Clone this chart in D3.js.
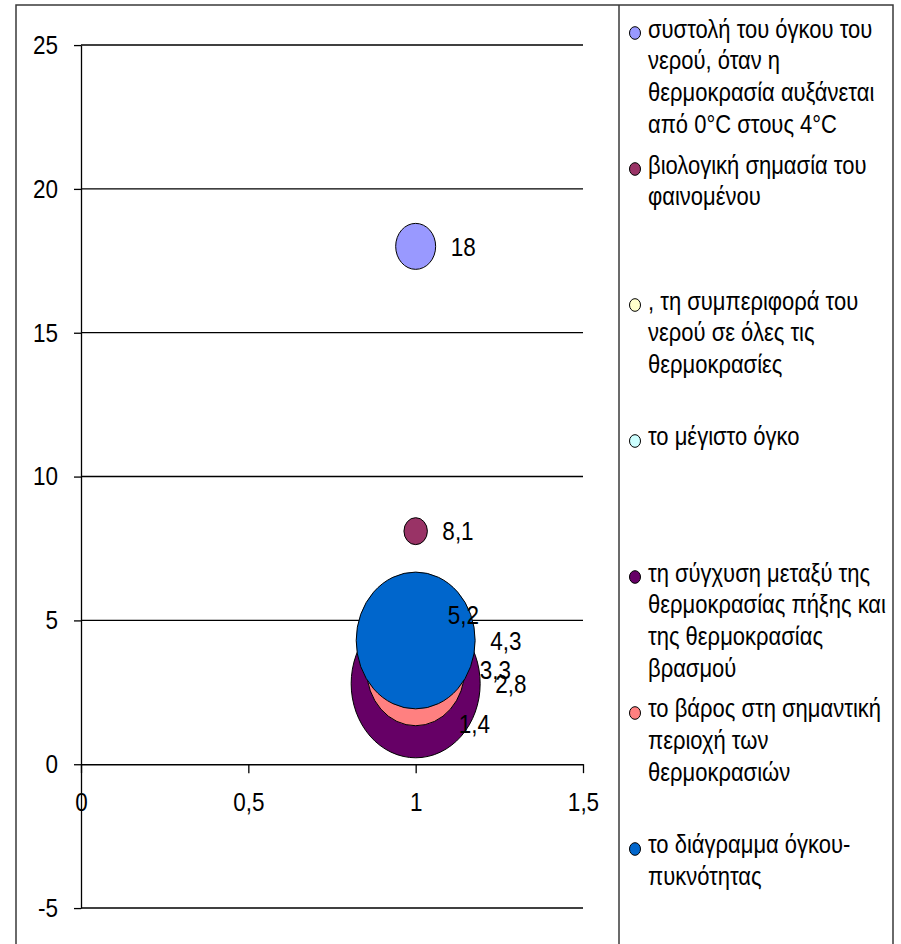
<!DOCTYPE html>
<html>
<head>
<meta charset="utf-8">
<script src="https://cdn.jsdelivr.net/npm/d3@7"></script>
<style>
  html, body { margin: 0; padding: 0; background: #fff; }
  svg { display: block; }
  text { font-family: "Liberation Sans", Arial, sans-serif; fill: #000; }
</style>
</head>
<body>
<svg id="chart" width="901" height="944"></svg>
<script>
// ---- data ----
const seriesNames = [
  ["συστολή του όγκου του", "νερού, όταν η", "θερμοκρασία αυξάνεται", "από 0°C στους 4°C"],
  ["βιολογική σημασία του", "φαινομένου"],
  [", τη συμπεριφορά του", "νερού σε όλες τις", "θερμοκρασίες"],
  ["το μέγιστο όγκο"],
  ["τη σύγχυση μεταξύ της", "θερμοκρασίας πήξης και", "της θερμοκρασίας", "βρασμού"],
  ["το βάρος στη σημαντική", "περιοχή των", "θερμοκρασιών"],
  ["το διάγραμμα όγκου-", "πυκνότητας"]
];
const seriesColors = ["#9999FF", "#993366", "#FFFFCC", "#CCFFFF", "#660066", "#FF8080", "#0066CC"];
const xValues = [1, 1, 1, 1, 1, 1, 1];
const yValues = [18, 8.1, 5.2, 1.4, 2.8, 3.3, 4.3];
const bubbleSizes = [9.6, 3.3, 7, 19, 100, 58, 85];
const yTicks = [-5, 0, 5, 10, 15, 20, 25];
const xTicks = [0, 0.5, 1, 1.5];

// ---- layout ----
const S = 1.15;               // vertical stretch of the picture
const fy = v => v / S;        // final pixel y -> unstretched
const svg = d3.select("#chart");
const root = svg.append("g").attr("transform", `scale(1,${S})`);

const loc = d3.formatLocale({decimal: ",", thousands: ".", grouping: [3], currency: ["", "€"], minus: "-"});
const fmt = loc.format("~g");

const x = d3.scaleLinear().domain([0, 1.5]).range([81, 583]);
const y = d3.scaleLinear().domain([-5, 25]).range([fy(908), fy(45)]);
const r = d3.scaleSqrt().domain([0, 100]).range([0, 64.5]);

// frame
root.append("rect").attr("x", 16).attr("y", fy(5)).attr("width", 877).attr("height", fy(960))
  .attr("fill", "none").attr("stroke", "#3a3a3a").attr("stroke-width", 1.5)
  .attr("vector-effect", "non-scaling-stroke");
root.append("line").attr("x1", 619).attr("x2", 619).attr("y1", fy(5)).attr("y2", fy(960))
  .attr("stroke", "#3a3a3a").attr("stroke-width", 1.5).attr("vector-effect", "non-scaling-stroke");

// gridlines
root.append("g").selectAll("line").data(yTicks.filter(t => t !== 0)).join("line")
  .attr("x1", x(0)).attr("x2", x(1.5)).attr("y1", d => y(d)).attr("y2", d => y(d))
  .attr("stroke", "#000").attr("stroke-width", 1.3).attr("vector-effect", "non-scaling-stroke");

// y axis
const yAxis = root.append("g").attr("transform", `translate(${x(0)},0)`)
  .call(d3.axisLeft(y).tickValues(yTicks).tickSize(7).tickSizeOuter(0).tickPadding(16).tickFormat(fmt));
// x axis
const xAxis = root.append("g").attr("transform", `translate(0,${y(0)})`)
  .call(d3.axisBottom(x).tickValues(xTicks).tickSize(9 / S).tickSizeOuter(0).tickPadding(17).tickFormat(fmt));
[yAxis, xAxis].forEach(a => {
  a.selectAll("path, line").attr("stroke", "#000").attr("stroke-width", 1.3)
    .attr("vector-effect", "non-scaling-stroke");
  a.selectAll("text").attr("font-size", 22.5).attr("fill", "#000")
    .attr("font-family", "'Liberation Sans', Arial, sans-serif");
});

// bubbles
const data = yValues.map((v, i) => ({i, x: xValues[i], y: v, s: bubbleSizes[i]}));
root.append("g").selectAll("circle").data(data).join("circle")
  .attr("cx", d => x(d.x)).attr("cy", d => y(d.y)).attr("r", d => r(d.s))
  .attr("fill", d => seriesColors[d.i]).attr("stroke", "#000").attr("stroke-width", 1)
  .attr("vector-effect", "non-scaling-stroke");

// data labels
root.append("g").selectAll("text").data(data).join("text")
  .attr("x", d => x(d.x) + r(d.s) + 15).attr("y", d => y(d.y))
  .attr("dy", "0.36em").attr("font-size", 22.5).text(d => fmt(d.y));

// legend
const legBase0 = 37.5, legStep = 136, lineStep = 32;
const leg = root.append("g").selectAll("g").data(seriesNames).join("g")
  .attr("transform", (d, i) => `translate(0,${fy(legBase0 + i * legStep)})`);
leg.append("circle").attr("cx", 635).attr("cy", fy(-4.5)).attr("r", 5.5)
  .attr("fill", (d, i) => seriesColors[i]).attr("stroke", "#000").attr("stroke-width", 1)
  .attr("vector-effect", "non-scaling-stroke");
leg.append("text").attr("font-size", 22)
  .selectAll("tspan").data(d => d).join("tspan")
  .attr("x", 648).attr("y", (d, j) => fy(j * lineStep)).text(d => d);
</script>
</body>
</html>
